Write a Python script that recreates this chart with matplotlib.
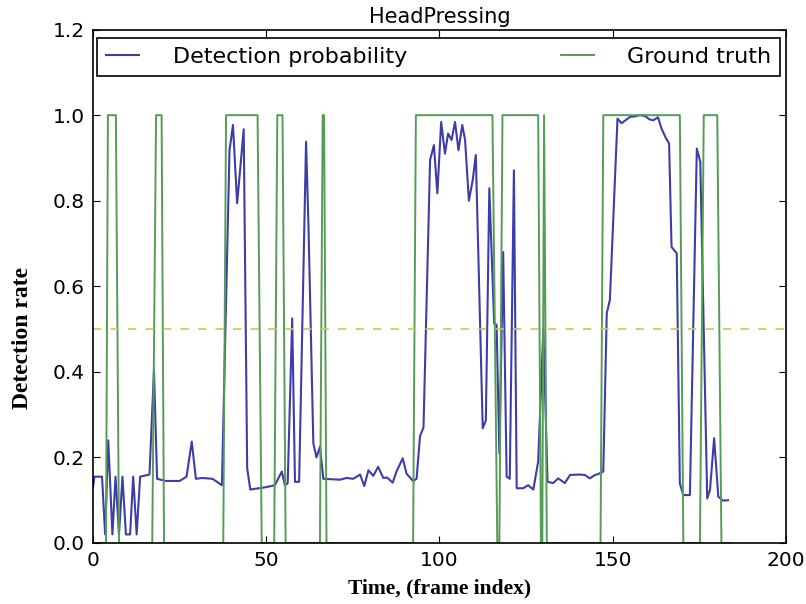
import numpy as np
import matplotlib
matplotlib.use("Agg")
import matplotlib.pyplot as plt

# detection probability (frame index, value)
prob_x = [0.0, 0.4, 2.6, 3.5, 4.4, 5.6, 6.5, 7.5, 8.5, 9.5, 10.7, 11.6, 12.6, 13.6,
          16.3, 17.6, 18.5, 21.0, 25.0, 27.0, 28.5, 29.7, 31.5, 34.5, 37.2, 39.4,
          40.4, 41.6, 43.5, 44.5, 45.4, 49.6, 52.5, 54.5, 55.4, 56.2, 57.5, 58.3,
          59.5, 61.5, 62.2, 63.6, 64.5, 65.5, 66.5, 71.3, 73.2, 75.1, 77.1, 78.3,
          79.5, 80.9, 82.3, 83.8, 84.9, 86.5, 87.6, 89.4, 90.5, 92.4, 93.4, 94.4,
          95.4, 97.3, 98.4, 99.4, 100.5, 101.6, 102.5, 103.5, 104.5, 105.5, 106.6,
          107.4, 108.5, 109.6, 110.5, 112.5, 113.4, 114.4, 115.8, 116.5, 117.3,
          118.4, 119.4, 120.3, 121.5, 122.3, 124.2, 125.6, 127.1, 128.5, 130.0,
          131.2, 132.8, 134.3, 136.2, 137.7, 140.5, 142.0, 143.4, 144.9, 145.8,
          147.3, 148.3, 149.2, 151.4, 152.6, 154.0, 155.0, 156.4, 157.9, 159.3,
          160.7, 161.7, 163.1, 164.1, 165.4, 166.3, 167.0, 168.5, 169.4, 170.4,
          172.3, 174.3, 175.3, 177.3, 178.1, 179.3, 180.5, 181.9, 183.3]
prob_y = [0.13, 0.155, 0.155, 0.02, 0.24, 0.02, 0.155, 0.02, 0.155, 0.02, 0.02, 0.155,
          0.02, 0.155, 0.16, 0.404, 0.15, 0.145, 0.145, 0.155, 0.237, 0.15, 0.152,
          0.15, 0.135, 0.918, 0.977, 0.794, 0.967, 0.175, 0.125, 0.13, 0.135, 0.167,
          0.135, 0.14, 0.525, 0.143, 0.143, 0.938, 0.74, 0.233, 0.2, 0.225, 0.15,
          0.148, 0.152, 0.15, 0.16, 0.133, 0.17, 0.157, 0.178, 0.152, 0.153, 0.141,
          0.167, 0.198, 0.162, 0.145, 0.15, 0.25, 0.27, 0.895, 0.93, 0.817, 0.984,
          0.91, 0.957, 0.942, 0.984, 0.918, 0.977, 0.942, 0.80, 0.848, 0.907, 0.268,
          0.287, 0.829, 0.513, 0.51, 0.21, 0.68, 0.155, 0.15, 0.871, 0.128, 0.128,
          0.135, 0.125, 0.19, 0.5, 0.143, 0.14, 0.151, 0.14, 0.159, 0.16, 0.159,
          0.151, 0.159, 0.161, 0.167, 0.537, 0.568, 0.992, 0.981, 0.99, 0.996, 0.997,
          1.0, 0.998, 0.99, 0.988, 0.995, 0.969, 0.946, 0.934, 0.692, 0.677, 0.139,
          0.112, 0.112, 0.922, 0.891, 0.104, 0.124, 0.245, 0.108, 0.099, 0.1]

# ground truth step line vertices
gt_x = [0, 3.75, 4.3, 6.6, 7.5, 17.1, 18.2, 19.8, 20.5, 37.6, 38.4, 47.5, 48.7,
        52.3, 53.2, 54.7, 55.6, 65.5, 66.3, 66.7, 67.4, 92.4, 93.2, 115.3, 116.7,
        117.3, 118.2, 128.5, 129.3, 129.7, 130.2, 131.0, 146.5, 147.3, 169.4, 170.4,
        175.2, 176.3, 180.2, 181.4, 184]
gt_y = [0, 0, 1, 1, 0, 0, 1, 1, 0, 0, 1, 1, 0,
        0, 1, 1, 0, 0, 1, 1, 0, 0, 1, 1, 0,
        0, 1, 1, 0, 0, 1, 0, 0, 1, 1, 0,
        0, 1, 1, 0, 0]

threshold = 0.5

fig = plt.figure(figsize=(8.06, 6.04), dpi=100)
ax = fig.add_axes([0.1154, 0.101, 0.8596, 0.850])

ax.plot(prob_x, prob_y, color='#3d3da8', lw=1.5, label='Detection probability')
ax.plot(gt_x, gt_y, color='#559c55', lw=1.4, label='Ground truth')
ax.axhline(threshold, color='#c9c94a', lw=1.2, dashes=(5, 5.5))

ax.set_xlim(0, 200)
ax.set_ylim(0, 1.2)
ax.set_xticks([0, 50, 100, 150, 200])
ax.set_yticks(np.arange(0, 1.21, 0.2))
ax.set_yticklabels(['0.0', '0.2', '0.4', '0.6', '0.8', '1.0', '1.2'])
ax.tick_params(direction='in', top=True, right=True, length=5, labelsize=14.5, pad=6)
for s in ax.spines.values():
    s.set_linewidth(1.2)

ax.set_title('HeadPressing', fontsize=15, pad=5)
ax.set_xlabel('Time, (frame index)', fontsize=15.5, fontweight='bold',
              family='Liberation Serif', labelpad=6)
ax.set_ylabel('Detection rate', fontsize=17, fontweight='bold',
              family='Liberation Serif')
ax.yaxis.set_label_coords(-0.086, 0.40)

leg = ax.legend(loc='upper left', bbox_to_anchor=(0.006, 0.983, 0.986, 0), mode='expand',
                ncol=2, borderaxespad=0, fontsize=16, fancybox=False, handlelength=1.5,
                handletextpad=1.5, borderpad=0.4)
leg.get_frame().set_edgecolor('black')
leg.get_frame().set_linewidth(1.2)
leg.get_frame().set_alpha(1)

fig.savefig('out.png', dpi=100)
